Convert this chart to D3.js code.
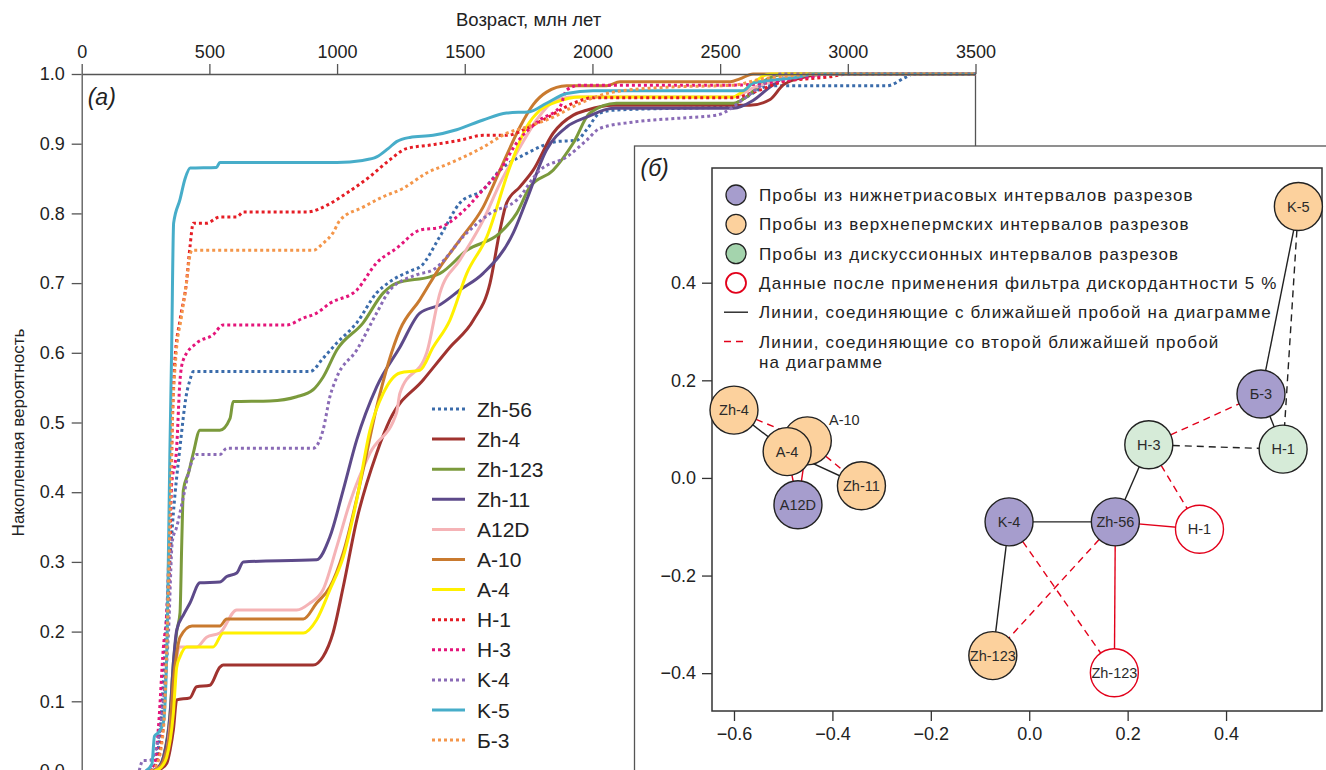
<!DOCTYPE html>
<html>
<head>
<meta charset="utf-8">
<script src="https://cdn.jsdelivr.net/npm/d3@7"></script>
<style>
  html, body { margin: 0; padding: 0; background: #fff; }
  svg { display: block; font-family: "Liberation Sans", Arial, sans-serif; }
</style>
</head>
<body>
<div id="chart"></div>
<script>
//*************************0. Data

// panel (a): cumulative probability curves, [age Ma, probability]
const seriesNames = ["Zh-56", "Zh-4", "Zh-123", "Zh-11", "A12D", "A-10", "A-4", "H-1", "H-3", "K-4", "K-5", "Б-3"]

const cdfZh56 = [[270,0],[290,0.01],[305,0.05],[320,0.13],[333,0.227],[359,0.37],[385,0.465],[410,0.54],[424,0.561],[437,0.573],[894,0.573],[945,0.592],[999,0.614],[1077,0.643],[1155,0.686],[1207,0.702],[1298,0.719],[1324,0.723],[1403,0.767],[1481,0.815],[1572,0.834],[1638,0.862],[1742,0.886],[1860,0.903],[1938,0.905],[1977,0.92],[2029,0.944],[2081,0.948],[2525,0.953],[2603,0.967],[2694,0.983],[3152,0.983],[3230,0.996],[3255,1],[3500,1]]
const cdfZh4 = [[285,0],[310,0.003],[333,0.011],[346,0.03],[359,0.059],[372,0.102],[424,0.105],[450,0.121],[502,0.123],[541,0.149],[554,0.152],[906,0.152],[945,0.164],[984,0.198],[1024,0.264],[1077,0.36],[1155,0.456],[1207,0.504],[1337,0.561],[1442,0.608],[1534,0.647],[1599,0.7],[1638,0.776],[1664,0.815],[1716,0.838],[1768,0.862],[1846,0.915],[1925,0.941],[1977,0.948],[2081,0.955],[2616,0.955],[2694,0.963],[2746,0.984],[2812,0.994],[2930,1],[3500,1]]
const cdfZh123 = [[275,0],[300,0.005],[320,0.02],[346,0.083],[359,0.155],[372,0.2],[385,0.227],[392,0.33],[398,0.403],[420,0.43],[437,0.456],[463,0.489],[541,0.489],[581,0.506],[593,0.53],[737,0.531],[842,0.537],[906,0.547],[945,0.565],[999,0.604],[1102,0.643],[1181,0.686],[1233,0.7],[1364,0.709],[1403,0.714],[1508,0.747],[1638,0.772],[1703,0.8],[1755,0.838],[1846,0.862],[1925,0.901],[1990,0.944],[2094,0.958],[2551,0.958],[2603,0.967],[2668,0.989],[2734,0.999],[2760,1],[3500,1]]
const cdfZh11 = [[275,0],[300,0.005],[320,0.02],[346,0.08],[360,0.16],[372,0.202],[400,0.225],[424,0.241],[463,0.27],[541,0.271],[568,0.279],[607,0.284],[633,0.3],[920,0.303],[972,0.336],[1024,0.403],[1077,0.475],[1155,0.551],[1246,0.608],[1324,0.657],[1403,0.669],[1481,0.69],[1572,0.714],[1690,0.772],[1742,0.819],[1820,0.891],[1899,0.924],[1977,0.938],[2081,0.951],[2551,0.951],[2629,0.962],[2694,0.981],[2773,0.999],[2800,1],[3500,1]]
const cdfA12D = [[280,0],[305,0.005],[330,0.02],[350,0.08],[365,0.14],[385,0.178],[450,0.178],[489,0.192],[541,0.198],[607,0.231],[842,0.231],[894,0.241],[945,0.26],[999,0.322],[1050,0.385],[1129,0.456],[1233,0.514],[1246,0.542],[1351,0.6],[1403,0.686],[1481,0.733],[1572,0.79],[1638,0.843],[1716,0.895],[1781,0.934],[1846,0.96],[1925,0.967],[2551,0.967],[2629,0.98],[2721,0.991],[2800,1],[3500,1]]
const cdfA10 = [[280,0],[305,0.005],[325,0.02],[346,0.06],[359,0.13],[372,0.169],[385,0.192],[432,0.208],[541,0.208],[568,0.218],[868,0.218],[920,0.241],[972,0.264],[1024,0.313],[1102,0.432],[1155,0.522],[1246,0.633],[1324,0.676],[1403,0.723],[1481,0.762],[1572,0.809],[1638,0.862],[1716,0.924],[1768,0.956],[1820,0.974],[1899,0.983],[2055,0.983],[2108,0.989],[2540,0.989],[2577,0.993],[2629,1],[3500,1]]
const cdfA4 = [[285,0],[310,0.005],[333,0.02],[359,0.083],[372,0.149],[385,0.164],[411,0.178],[515,0.178],[554,0.198],[868,0.198],[920,0.217],[972,0.26],[1024,0.307],[1077,0.389],[1129,0.489],[1181,0.542],[1246,0.571],[1324,0.575],[1376,0.608],[1442,0.647],[1508,0.714],[1586,0.766],[1677,0.867],[1742,0.924],[1794,0.948],[1860,0.96],[1951,0.967],[2551,0.967],[2577,0.972],[2629,0.987],[2681,0.999],[2700,1],[3500,1]]
const cdfH1 = [[270,0],[293,0.011],[318,0.06],[335,0.2],[346,0.32],[355,0.5],[365,0.59],[385,0.647],[410,0.7],[424,0.752],[437,0.786],[489,0.786],[541,0.795],[607,0.795],[633,0.802],[881,0.802],[972,0.814],[1037,0.829],[1129,0.853],[1207,0.877],[1272,0.893],[1364,0.898],[1481,0.905],[1572,0.912],[1664,0.912],[1742,0.922],[1821,0.937],[1925,0.958],[2003,0.966],[2551,0.966],[2655,0.977],[2746,0.989],[2930,0.996],[3000,1],[3500,1]]
const cdfH3 = [[260,0],[285,0.01],[300,0.06],[320,0.178],[333,0.227],[350,0.4],[372,0.465],[385,0.561],[398,0.59],[450,0.614],[515,0.626],[554,0.64],[803,0.64],[868,0.65],[920,0.657],[972,0.671],[1077,0.69],[1155,0.729],[1233,0.75],[1324,0.776],[1403,0.78],[1469,0.795],[1572,0.834],[1638,0.862],[1703,0.901],[1794,0.934],[1873,0.953],[1899,0.977],[1951,0.984],[2551,0.984],[2864,0.996],[2950,1],[3500,1]]
const cdfK4 = [[225,0],[240,0.015],[265,0.015],[290,0.03],[320,0.1],[340,0.2],[355,0.33],[372,0.35],[398,0.393],[424,0.436],[450,0.454],[541,0.454],[568,0.463],[906,0.463],[945,0.489],[972,0.537],[999,0.565],[1077,0.604],[1155,0.657],[1207,0.69],[1312,0.712],[1376,0.719],[1508,0.772],[1599,0.8],[1703,0.819],[1794,0.862],[1899,0.881],[1977,0.905],[2029,0.922],[2159,0.931],[2355,0.937],[2486,0.941],[2603,0.967],[2681,0.989],[2734,1],[3500,1]]
const cdfK5 = [[250,0],[275,0.01],[285,0.05],[300,0.055],[320,0.07],[335,0.2],[345,0.45],[352,0.6],[360,0.786],[385,0.82],[405,0.85],[425,0.865],[528,0.866],[541,0.873],[1000,0.873],[1100,0.876],[1155,0.881],[1200,0.893],[1233,0.903],[1285,0.909],[1376,0.912],[1468,0.92],[1572,0.934],[1664,0.944],[1755,0.946],[1820,0.958],[1899,0.972],[2003,0.976],[2590,0.976],[2629,0.987],[2812,0.996],[2864,1],[3500,1]]
const cdfB3 = [[270,0],[295,0.01],[320,0.06],[335,0.2],[345,0.35],[355,0.5],[370,0.6],[390,0.65],[410,0.7],[424,0.74],[432,0.747],[906,0.747],[945,0.757],[984,0.772],[1011,0.79],[1102,0.809],[1181,0.824],[1259,0.836],[1351,0.858],[1442,0.872],[1572,0.895],[1664,0.915],[1742,0.924],[1846,0.938],[1951,0.958],[2081,0.974],[2290,0.981],[2551,0.984],[2681,0.994],[2950,1],[3500,1]]

const ageTicks = [0, 500, 1000, 1500, 2000, 2500, 3000, 3500]
const probTicks = [0, 0.1, 0.2, 0.3, 0.4, 0.5, 0.6, 0.7, 0.8, 0.9, 1.0]

// panel (б): MDS points
const pointIds = ["K-5", "Б-3", "H-1g", "H-3", "Zh-56", "H-1r", "K-4", "Zh-123o", "Zh-123r", "Zh-4", "A-10", "A-4", "A12D", "Zh-11"]
const pointLabels = ["K-5", "Б-3", "H-1", "H-3", "Zh-56", "H-1", "K-4", "Zh-123", "Zh-123", "Zh-4", "A-10", "A-4", "A12D", "Zh-11"]
const pointX = [0.547, 0.471, 0.516, 0.243, 0.175, 0.346, -0.041, -0.074, 0.173, -0.600, -0.451, -0.492, -0.470, -0.341]
const pointY = [0.556, 0.172, 0.059, 0.068, -0.090, -0.105, -0.090, -0.364, -0.399, 0.139, 0.076, 0.054, -0.055, -0.016]
const pointGroup = ["perm", "trias", "disc", "disc", "trias", "filter", "trias", "perm", "filter", "perm", "perm", "perm", "trias", "perm"]

// [from, to, kind, colour] kind: "first" = nearest, "second" = second nearest; colour "k" black / "r" red
const links = [
    ["K-5", "Б-3", "first", "k"],
    ["K-5", "H-1g", "second", "k"],
    ["Б-3", "H-1g", "first", "k"],
    ["H-3", "Б-3", "second", "r"],
    ["H-3", "H-1g", "second", "k"],
    ["H-3", "Zh-56", "first", "k"],
    ["H-3", "H-1r", "second", "r"],
    ["Zh-56", "H-1r", "first", "r"],
    ["Zh-56", "Zh-123r", "first", "r"],
    ["Zh-56", "K-4", "first", "k"],
    ["K-4", "Zh-123o", "first", "k"],
    ["K-4", "Zh-123r", "second", "r"],
    ["Zh-56", "Zh-123o", "second", "r"],
    ["Zh-4", "A-4", "first", "k"],
    ["Zh-4", "A-10", "second", "r"],
    ["A-4", "Zh-11", "first", "k"],
    ["A-10", "Zh-11", "second", "r"],
    ["A12D", "A-4", "second", "r"],
    ["A12D", "A-10", "first", "r"]
]

const mdsXTicks = [-0.6, -0.4, -0.2, 0.0, 0.2, 0.4]
const mdsYTicks = [-0.4, -0.2, 0.0, 0.2, 0.4]

const legendB = [
    { kind: "circle", group: "trias", text: ["Пробы из нижнетриасовых интервалов разрезов"] },
    { kind: "circle", group: "permLeg", text: ["Пробы из верхнепермских интервалов разрезов"] },
    { kind: "circle", group: "discLeg", text: ["Пробы из дискуссионных интервалов разрезов"] },
    { kind: "circle", group: "filter", text: ["Данные после применения фильтра дискордантности 5 %"] },
    { kind: "solid", text: ["Линии, соединяющие с ближайшей пробой на диаграмме"] },
    { kind: "dashed", text: ["Линии, соединяющие со второй ближайшей пробой", "на диаграмме"] }
]

//*************************1. Styles
const seriesStyle = {
    "Zh-56": { color: "#3b6cab", dotted: true },
    "Zh-4": { color: "#a0332f", dotted: false },
    "Zh-123": { color: "#7b9a3c", dotted: false },
    "Zh-11": { color: "#5d4a8a", dotted: false },
    "A12D": { color: "#f5b3b6", dotted: false },
    "A-10": { color: "#c97a2f", dotted: false },
    "A-4": { color: "#fff000", dotted: false },
    "H-1": { color: "#e51d25", dotted: true },
    "H-3": { color: "#e4157a", dotted: true },
    "K-4": { color: "#8a6bb6", dotted: true },
    "K-5": { color: "#47adc9", dotted: false },
    "Б-3": { color: "#f4964a", dotted: true }
}
const seriesData = {
    "Zh-56": cdfZh56, "Zh-4": cdfZh4, "Zh-123": cdfZh123, "Zh-11": cdfZh11,
    "A12D": cdfA12D, "A-10": cdfA10, "A-4": cdfA4, "H-1": cdfH1,
    "H-3": cdfH3, "K-4": cdfK4, "K-5": cdfK5, "Б-3": cdfB3
}
const groupStyle = {
    trias: { fill: "#a69dcd", stroke: "#222" },
    perm: { fill: "#fcd19d", stroke: "#222" },
    permLeg: { fill: "#fcd19d", stroke: "#222" },
    disc: { fill: "#d6ebd8", stroke: "#222" },
    discLeg: { fill: "#a4d4ad", stroke: "#222" },
    filter: { fill: "#fff", stroke: "#e2001a" }
}
const RED = "#e2001a"
const AXIS = "#555"

function drawChart() {
    //*************************2. Dimensions
    const width = 1326
    const height = 770

    const dimA = { left: 81.7, right: 975.5, top: 74, bottom: 771 }
    const dimB = {
        outerLeft: 634.5, outerTop: 146,
        left: 712, right: 1322, top: 168, bottom: 711
    }

    const wrapper = d3.select("#chart")
        .append("svg")
        .attr("width", width)
        .attr("height", height)

    //*************************3. Panel (a)
    const xA = d3.scaleLinear().domain([0, 3500]).range([dimA.left, dimA.right])
    const yA = d3.scaleLinear().domain([0, 1]).range([dimA.bottom, dimA.top])

    const panelA = wrapper.append("g")

    // right border of panel a (down to panel b)
    panelA.append("line")
        .attr("x1", dimA.right).attr("x2", dimA.right)
        .attr("y1", dimA.top).attr("y2", dimB.outerTop)
        .attr("stroke", AXIS).attr("stroke-width", 1.3)

    const lineGen = d3.line()
        .x(d => xA(d[0]))
        .y(d => yA(d[1]))
        .curve(d3.curveMonotoneX)

    const curves = panelA.append("g")
    seriesNames.forEach(name => {
        const st = seriesStyle[name]
        curves.append("path")
            .datum(seriesData[name])
            .attr("d", lineGen)
            .attr("fill", "none")
            .attr("stroke", st.color)
            .attr("stroke-width", 3)
            .attr("stroke-dasharray", st.dotted ? "3,3" : null)
    })

    const axisTop = panelA.append("g")
        .attr("transform", `translate(0,${dimA.top})`)
        .call(d3.axisTop(xA).tickValues(ageTicks).tickFormat(d3.format("d")).tickSize(10).tickSizeOuter(0).tickPadding(6))
    const axisLeft = panelA.append("g")
        .attr("transform", `translate(${dimA.left},0)`)
        .call(d3.axisLeft(yA).tickValues(probTicks).tickFormat(d3.format(".1f")).tickSize(10).tickSizeOuter(0).tickPadding(7))

    ;[axisTop, axisLeft].forEach(ax => {
        ax.selectAll("path, line").attr("stroke", AXIS).attr("stroke-width", 1.3)
        ax.selectAll("text").attr("fill", "#222").style("font-size", "18px").style("font-family", "Liberation Sans, Arial, sans-serif")
    })

    panelA.append("text")
        .attr("x", (xA(0) + xA(3500)) / 2)
        .attr("y", 26)
        .attr("text-anchor", "middle")
        .style("font-size", "18.5px")
        .attr("fill", "#222")
        .text("Возраст, млн лет")

    panelA.append("text")
        .attr("transform", `translate(24,${(yA(0) + yA(1)) / 2 + 10}) rotate(-90)`)
        .attr("text-anchor", "middle")
        .style("font-size", "17px")
        .attr("fill", "#222")
        .text("Накопленная вероятность")

    panelA.append("text")
        .attr("x", dimA.left + 6)
        .attr("y", dimA.top + 31)
        .style("font-size", "23px")
        .style("font-style", "italic")
        .attr("fill", "#222")
        .text("(а)")

    // legend a
    const legA = panelA.append("g").attr("transform", "translate(432,409)")
    seriesNames.forEach((name, i) => {
        const st = seriesStyle[name]
        const g = legA.append("g").attr("transform", `translate(0,${i * 30.1})`)
        g.append("line")
            .attr("x1", 0).attr("x2", 33)
            .attr("stroke", st.color).attr("stroke-width", 3)
            .attr("stroke-dasharray", st.dotted ? "3,3" : null)
        g.append("text")
            .attr("x", 45).attr("y", 7.5)
            .style("font-size", "21px")
            .attr("fill", "#222")
            .text(name)
    })

    //*************************4. Panel (б)
    const panelB = wrapper.append("g")

    panelB.append("rect")
        .attr("x", dimB.outerLeft).attr("y", dimB.outerTop)
        .attr("width", width).attr("height", height)
        .attr("fill", "#fff")
        .attr("stroke", AXIS).attr("stroke-width", 1.3)

    const xB = d3.scaleLinear().domain([-0.6447, 0.595]).range([dimB.left, dimB.right])
    const yB = d3.scaleLinear().domain([-0.4775, 0.635]).range([dimB.bottom, dimB.top])

    panelB.append("rect")
        .attr("x", dimB.left).attr("y", dimB.top)
        .attr("width", dimB.right - dimB.left).attr("height", dimB.bottom - dimB.top)
        .attr("fill", "none")
        .attr("stroke", "#333").attr("stroke-width", 1.5)

    const axB1 = panelB.append("g")
        .attr("transform", `translate(0,${dimB.bottom})`)
        .call(d3.axisBottom(xB).tickValues(mdsXTicks).tickFormat(d3.format(".1f")).tickSize(10).tickSizeOuter(0).tickPadding(6))
    const axB2 = panelB.append("g")
        .attr("transform", `translate(${dimB.left},0)`)
        .call(d3.axisLeft(yB).tickValues(mdsYTicks).tickFormat(d3.format(".1f")).tickSize(10).tickSizeOuter(0).tickPadding(6))
    ;[axB1, axB2].forEach(ax => {
        ax.select(".domain").remove()
        ax.selectAll("line").attr("stroke", "#333").attr("stroke-width", 1.3)
        ax.selectAll("text").attr("fill", "#222").style("font-size", "18px").style("font-family", "Liberation Sans, Arial, sans-serif")
    })

    panelB.append("text")
        .attr("x", dimB.outerLeft + 6)
        .attr("y", dimB.outerTop + 30)
        .style("font-size", "23px")
        .style("font-style", "italic")
        .attr("fill", "#222")
        .text("(б)")

    // points lookup
    const points = pointIds.map((id, i) => ({
        id, label: pointLabels[i], x: pointX[i], y: pointY[i], group: pointGroup[i]
    }))
    const byId = new Map(points.map(p => [p.id, p]))

    const linkG = panelB.append("g")
    links.forEach(([a, b, kind, col]) => {
        const p = byId.get(a), q = byId.get(b)
        linkG.append("line")
            .attr("x1", xB(p.x)).attr("y1", yB(p.y))
            .attr("x2", xB(q.x)).attr("y2", yB(q.y))
            .attr("stroke", col === "r" ? RED : "#222")
            .attr("stroke-width", 1.4)
            .attr("stroke-dasharray", kind === "second" ? "7,5" : null)
    })

    const R = 24
    const nodeG = panelB.append("g")
    points.forEach(p => {
        const st = groupStyle[p.group]
        nodeG.append("circle")
            .attr("cx", xB(p.x)).attr("cy", yB(p.y)).attr("r", R)
            .attr("fill", st.fill)
            .attr("stroke", st.stroke)
            .attr("stroke-width", 1.4)
        // A-10 is hidden under A-4, so its name sits outside
        const outside = p.id === "A-10"
        nodeG.append("text")
            .attr("x", xB(p.x) + (outside ? 37 : 0))
            .attr("y", yB(p.y) + (outside ? -16 : 5))
            .attr("text-anchor", "middle")
            .style("font-size", "14.5px")
            .attr("fill", "#2a2a2a")
            .text(p.label)
    })

    // legend b
    const legB = panelB.append("g").attr("transform", `translate(${dimB.left + 24},195)`)
    legendB.forEach((item, i) => {
        const g = legB.append("g").attr("transform", `translate(0,${i * 29.3})`)
        if (item.kind === "circle") {
            const st = groupStyle[item.group]
            g.append("circle")
                .attr("r", 10)
                .attr("fill", st.fill)
                .attr("stroke", st.stroke)
                .attr("stroke-width", item.group === "filter" ? 1.8 : 1.3)
        } else {
            g.append("line")
                .attr("x1", -12).attr("x2", 12)
                .attr("stroke", item.kind === "solid" ? "#222" : RED)
                .attr("stroke-width", 1.4)
                .attr("stroke-dasharray", item.kind === "dashed" ? "7,5" : null)
        }
        item.text.forEach((t, j) => {
            g.append("text")
                .attr("x", 23).attr("y", 6 + j * 20)
                .style("font-size", "17px")
                .style("letter-spacing", "1.15px")
                .attr("fill", "#222")
                .text(t)
        })
    })
}
drawChart()
</script>
</body>
</html>
